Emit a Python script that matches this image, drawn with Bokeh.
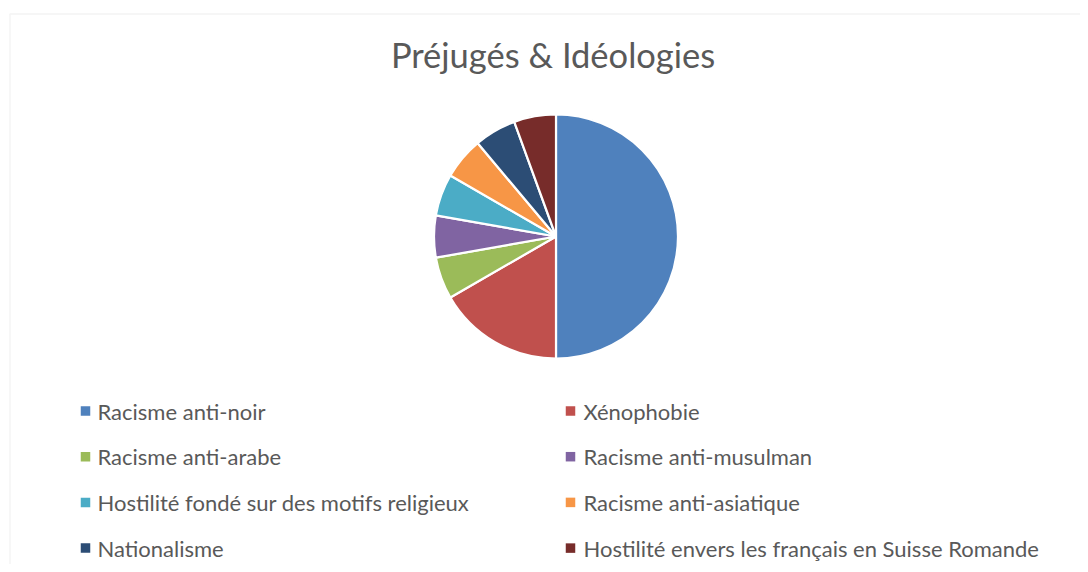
import math
from bokeh.plotting import figure
from bokeh.models import Range1d, BoxAnnotation, ColumnDataSource
from bokeh.core.properties import value
from bokeh.embed import file_html
from bokeh.resources import INLINE

title_text = "Préjugés & Idéologies"
categories = [
    "Racisme anti-noir",
    "Xénophobie",
    "Racisme anti-arabe",
    "Racisme anti-musulman",
    "Hostilité fondé sur des motifs religieux",
    "Racisme anti-asiatique",
    "Nationalisme",
    "Hostilité envers les français en Suisse Romande",
]
counts = [9, 3, 1, 1, 1, 1, 1, 1]
colors = ["#4F81BD", "#C0504D", "#9BBB59", "#8064A2",
          "#4BACC6", "#F79646", "#2C4D75", "#772C2A"]

W, H = 1080, 564
FONT = "Lato"
TXT = "#595959"

p = figure(width=W, height=H, output_backend="svg", toolbar_location=None,
           x_range=Range1d(0, W), y_range=Range1d(0, H),
           min_border=0, min_border_left=0, min_border_right=0,
           min_border_top=0, min_border_bottom=0)
p.axis.visible = False
p.grid.visible = False
p.outline_line_color = None
p.background_fill_color = "white"
p.border_fill_color = "white"

# chart area border
p.add_layout(BoxAnnotation(left=9.5, right=W + 20, top=H - 13.5, bottom=-20,
                           fill_color=None, line_color="#D9D9D9", line_width=1.5))

# pie
total = sum(counts)
starts, ends = [], []
cum = 0.0
for c in counts:
    starts.append(math.pi / 2 - 2 * math.pi * cum / total)
    cum += c
    ends.append(math.pi / 2 - 2 * math.pi * cum / total)
src = ColumnDataSource(dict(cat=categories, count=counts, color=colors,
                            start=starts, end=ends))
cx, cy, r = 555.5, 328, 122
p.wedge(x=cx, y=cy, radius=r, radius_units="screen", start_angle="start",
        end_angle="end", direction="clock", fill_color="color",
        line_color="white", line_width=2.2, source=src)

# title
p.text(x=[552.5], y=[510], text=[title_text], text_font=value(FONT),
       text_font_size="34.5px", text_color=TXT, text_align="center",
       text_baseline="alphabetic")

# legend (two columns, row-major)
col_marker_x = [85, 570]
col_text_x = [97, 583]
row_y0, row_dy = 153.5, 45.7
lx, ly, tx = [], [], []
for i in range(len(categories)):
    row, col = divmod(i, 2)
    lx.append(col_marker_x[col])
    tx.append(col_text_x[col])
    ly.append(row_y0 - row * row_dy)
p.scatter(x=lx, y=ly, marker="square", size=9.5, fill_color=colors, line_color=None)
p.text(x=tx, y=ly, text=categories, text_font=value(FONT), text_font_size="22px",
       text_color=TXT, text_align="left", text_baseline="middle")

open("out.html", "w").write(file_html(p, INLINE))
